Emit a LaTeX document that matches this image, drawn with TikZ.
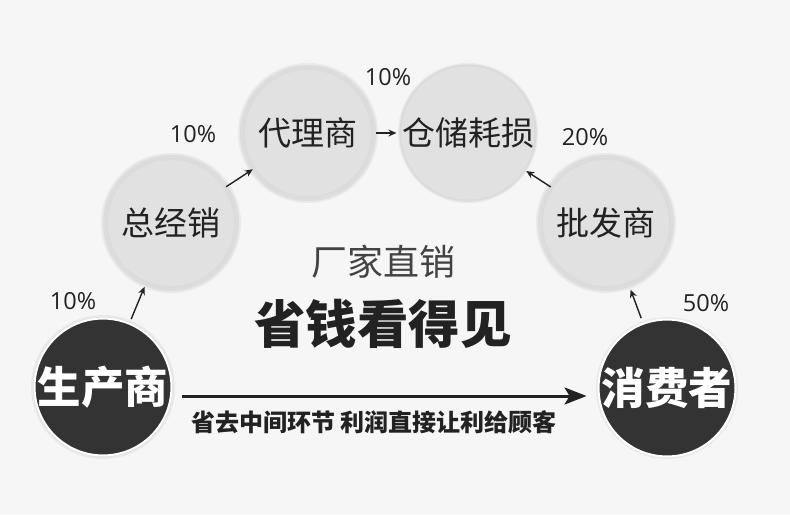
\documentclass[tikz,border=0pt]{standalone}
\usepackage{fontspec}
\newfontfamily\cjk{Noto Sans CJK SC}
\newfontfamily\pctfont{Open Sans}
\usetikzlibrary{arrows.meta}
\definecolor{bgc}{HTML}{F6F6F6}
\definecolor{lightfill}{HTML}{E1E1E1}
\definecolor{darkfill}{HTML}{333333}
\definecolor{txt}{HTML}{222222}
\begin{document}
\begin{tikzpicture}[x=1pt,y=-1pt,
  lightc/.style={circle, fill=lightfill, draw=black!14, line width=2pt, minimum size=128pt, inner sep=0pt, text=txt, font=\cjk\fontsize{33}{33}\selectfont},
  darkc/.style={circle, fill=darkfill, draw=white, line width=2pt, minimum size=130pt, inner sep=0pt, text=white, font=\cjk\bfseries\fontsize{43.5}{43.5}\selectfont},
  pct/.style={text=txt, font=\pctfont\fontsize{23.5}{23.5}\selectfont, inner sep=0pt},
  smallarrow/.style={-{Stealth[length=8pt,width=7pt]}, line width=1.4pt, draw=txt},
  bigarrow/.style={-{Stealth[length=22pt,width=17pt,inset=5pt]}, line width=3pt, draw=txt}
]
\useasboundingbox (0,0) rectangle (790,515);
\fill[bgc] (0,0) rectangle (790,515);
% soft halos
\foreach \cx/\cy/\rr in {103/387/68,667/388/67,171/223/66,308/133/66,468/133/66,606/223/66}{
  \fill[black, opacity=0.05] (\cx,\cy) circle (\rr+4);
  \fill[black, opacity=0.05] (\cx,\cy) circle (\rr+2);
}
\node[darkc] (A) at (103,387) {生产商};
\node[darkc] (F) at (667,388) {消费者};
\node[lightc] (B) at (171,223) {总经销};
\node[lightc] (C) at (308,133) {代理商};
\node[lightc] (D) at (468,133) {仓储耗损};
\node[lightc] (E) at (606,223) {批发商};

\draw[smallarrow, shorten <=4pt, shorten >=4pt] (A) -- (B);
\draw[smallarrow, shorten <=1pt, shorten >=1pt] (B) -- (C);
\draw[smallarrow, shorten <=3pt, shorten >=3pt] (C) -- (D);
\draw[smallarrow, shorten <=1pt, shorten >=1pt] (E) -- (D);
\draw[smallarrow, shorten <=5pt, shorten >=6pt] (F) -- (E);

\coordinate (m1) at ([yshift=-9pt]A.east);
\coordinate (m2) at ([yshift=-8pt]F.west);
\draw[bigarrow, shorten <=10pt, shorten >=11pt] (m1) -- (m2);

\node[pct] (p1) at (73,301) {10\%};
\node[pct] (p2) at (193,134) {10\%};
\node[pct] (p3) at (388,77) {10\%};
\node[pct] (p4) at (585,137) {20\%};
\node[pct] (p5) at (706,303) {50\%};

\node[text=txt!85, font=\cjk\fontsize{36}{36}\selectfont, inner sep=0pt] (t1) at (383,262) {厂家直销};
\node[text=txt, font=\cjk\bfseries\fontsize{51.5}{51.5}\selectfont, inner sep=0pt] (t2) at (383,324) {省钱看得见};
\node[text=txt, font=\cjk\bfseries\fontsize{24}{24}\selectfont, inner sep=0pt] (t3) at (374,422) {省去中间环节 利润直接让利给顾客};
\end{tikzpicture}
\end{document}
